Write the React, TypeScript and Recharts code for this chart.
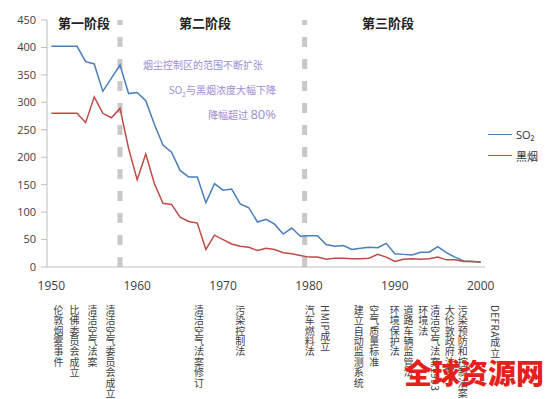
import React from 'react';
import { LineChart, Line, XAxis, YAxis, ReferenceLine } from 'recharts';

const years = Array.from({ length: 51 }, (_, i) => 1950 + i);

const so2 = [
  402, 402, 402, 402, 374, 370, 320, 344, 368, 316,
  318, 303, 260, 222, 209, 176, 164, 164, 117, 152,
  140, 142, 115, 108, 82, 87, 78, 60, 71, 56,
  57, 57, 41, 38, 39, 32, 34, 36, 35, 43,
  24, 23, 22, 27, 27, 37, 26, 18, 11, 10,
  9,
];

const smoke = [
  280, 280, 280, 280, 263, 310, 280, 272, 289, 216,
  159, 206, 152, 116, 114, 91, 83, 80, 32, 58,
  50, 42, 38, 36, 30, 34, 32, 26, 24, 21,
  18, 18, 14, 16, 16, 15, 15, 16, 23, 18,
  10, 14, 15, 14, 15, 18, 13, 13, 10, 10,
  9,
];

const yTicks = [0, 50, 100, 150, 200, 250, 300, 350, 400, 450];
const yearLabels = [1950, 1960, 1970, 1980, 1990, 2000];
const tickMarks = [1949.5, 1954.5, 1959.5, 1964.5, 1969.5, 1974.5, 1979.5, 1984.5, 1989.5, 1994.5, 1999.5];
const stageBreaks = [1958, 1979.5];

const series = [
  { key: 'so2', name: 'SO₂', color: '#4a7ebb' },
  { key: 'smoke', name: '黑烟', color: '#be4b48' },
];

const stages = [
  { name: '第一阶段', at: 84 },
  { name: '第二阶段', at: 205 },
  { name: '第三阶段', at: 388 },
];

// event positions are in years (where the note sits on the axis)
const events = [
  { pos: 1950.85, text: '伦敦烟雾事件' },
  { pos: 1952.7, text: '比佛委员会成立' },
  { pos: 1954.8, text: '清洁空气法案' },
  { pos: 1956.9, text: '清洁空气委员会成立' },
  { pos: 1967.2, text: '清洁空气法案修订' },
  { pos: 1972.0, text: '污染控制法' },
  { pos: 1980.1, text: '汽车燃料法' },
  { pos: 1981.9, text: 'HMIP成立' },
  { pos: 1985.8, text: '建立自动监测系统' },
  { pos: 1987.6, text: '空气质量标准' },
  { pos: 1990.0, text: '环境保护法' },
  { pos: 1991.6, text: '道路车辆监管法' },
  { pos: 1993.3, text: '环境法' },
  { pos: 1994.7, text: '清洁空气法案1993' },
  { pos: 1996.4, text: '大伦敦政府法案' },
  { pos: 1997.9, text: '污染预防和控制法案' },
  { pos: 2001.7, text: 'DEFRA成立' },
];

const data = years.map((y, i) => ({ year: y, so2: so2[i], smoke: smoke[i] }));

const axisFont = { fontSize: 11, fill: '#404040', fontFamily: 'Open Sans' };

function EventTick(props: any) {
  const { x, y, payload } = props;
  const ev = events.find((e) => e.pos === payload.value);
  if (!ev) return null;
  return (
    <text
      x={x}
      y={y + 2}
      fontSize={10}
      fill="#404040"
      fontFamily="Noto Sans CJK SC"
      style={{ writingMode: 'vertical-rl' as any, letterSpacing: 0.4 }}
    >
      {ev.text}
    </text>
  );
}

export default function App() {
  return (
    <div style={{ position: 'absolute', left: 0, top: 0, width: 558, height: 399, background: '#fff', fontFamily: 'Noto Sans CJK SC' }}>
      <LineChart width={558} height={399} data={data} margin={{ top: 20, right: 73, left: 0, bottom: 0 }}>
        <YAxis
          domain={[0, 450]}
          ticks={yTicks}
          width={47}
          tick={axisFont}
          tickMargin={5}
          stroke="#bfbfbf"
          interval={0}
        />
        <XAxis
          dataKey="year"
          type="number"
          domain={[1949.5, 2000.5]}
          ticks={tickMarks}
          tick={false}
          height={6}
          stroke="#bfbfbf"
          tickSize={5}
          interval={0}
        />
        <XAxis
          xAxisId="a"
          dataKey="year"
          type="number"
          domain={[1949.5, 2000.5]}
          ticks={yearLabels}
          axisLine={false}
          tickLine={false}
          tick={{ ...axisFont, fontSize: 12 }}
          height={22}
          interval={0}
        />
        <XAxis
          xAxisId="b"
          dataKey="year"
          type="number"
          domain={[1949.5, 2000.5]}
          ticks={events.map((e) => e.pos)}
          axisLine={false}
          tickLine={false}
          tick={<EventTick />}
          height={104}
          interval={0}
          allowDataOverflow
        />
        {stageBreaks.map((b) => (
          <ReferenceLine key={b} x={b} stroke="#c8c8c8" strokeWidth={5} strokeDasharray="10 12" />
        ))}
        {series.map((s) => (
          <Line key={s.key} dataKey={s.key} name={s.name} stroke={s.color} strokeWidth={1.5} dot={false} isAnimationActive={false} />
        ))}
      </LineChart>

      <div style={{ position: 'absolute', left: 488, top: 124 }}>
        {series.map((s) => (
          <div key={s.key} style={{ display: 'flex', alignItems: 'center', height: 21 }}>
            <span style={{ width: 24, height: 0, borderTop: `1.5px solid ${s.color}`, marginRight: 4 }} />
            <span style={{ fontSize: 11, color: '#333', fontFamily: 'Open Sans, Noto Sans CJK SC' }}>{s.name}</span>
          </div>
        ))}
      </div>

      {stages.map((s) => (
        <div
          key={s.name}
          style={{ position: 'absolute', left: s.at, top: 13, transform: 'translateX(-50%)', fontSize: 13, fontWeight: 700, color: '#222', whiteSpace: 'nowrap' }}
        >
          {s.name}
        </div>
      ))}

      <div style={{ position: 'absolute', right: 558 - 263, top: 57, fontSize: 10, color: '#a08cd2', whiteSpace: 'nowrap' }}>
        烟尘控制区的范围不断扩张
      </div>
      <div style={{ position: 'absolute', right: 558 - 276, top: 82, fontSize: 10, color: '#a08cd2', whiteSpace: 'nowrap' }}>
        SO<sub style={{ fontSize: 7 }}>2</sub>与黑烟浓度大幅下降
      </div>
      <div style={{ position: 'absolute', right: 558 - 276, top: 105, fontSize: 10, color: '#a08cd2', whiteSpace: 'nowrap' }}>
        降幅超过 <span style={{ fontSize: 13, fontFamily: 'Open Sans' }}>80%</span>
      </div>

      <div style={{ position: 'absolute', left: 404, top: 352, fontSize: 28, fontWeight: 900, color: '#e4211b', whiteSpace: 'nowrap' }}>
        全球资源网
      </div>
    </div>
  );
}
